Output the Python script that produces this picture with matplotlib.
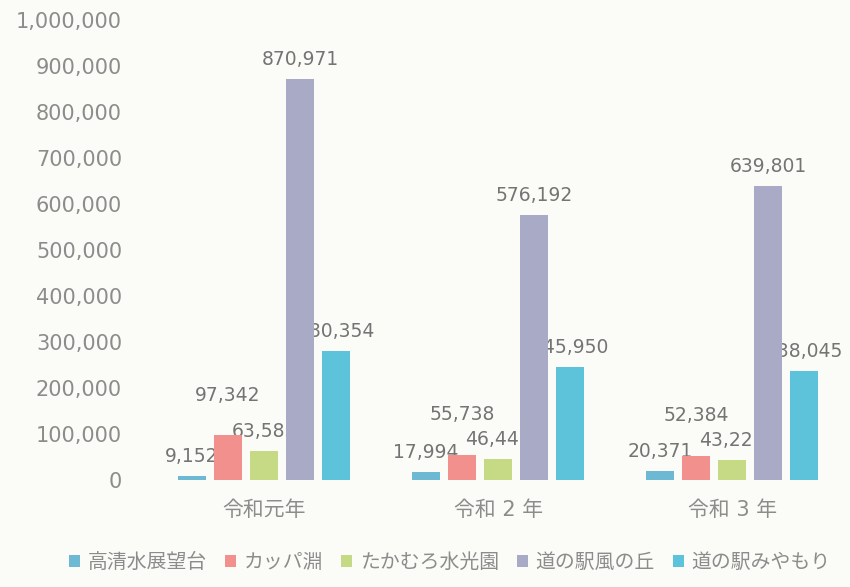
import matplotlib
matplotlib.use("Agg")
import matplotlib.pyplot as plt
import numpy as np

plt.rcParams['font.family'] = ['DejaVu Sans', 'Noto Sans CJK JP']

categories = ['令和元年', '令和 2 年', '令和 3 年']
series_names = ['高清水展望台', 'カッパ淵', 'たかむろ水光園', '道の駅風の丘', '道の駅みやもり']
takashimizu = [9152, 17994, 20371]
kappabuchi = [97342, 55738, 52384]
takamuro = [63583, 46445, 43223]
kazenooka = [870971, 576192, 639801]
miyamori = [280354, 245950, 238045]
yticks = [0, 100000, 200000, 300000, 400000, 500000, 600000, 700000, 800000, 900000, 1000000]

series = [takashimizu, kappabuchi, takamuro, kazenooka, miyamori]
colors = ['#6DB9D3', '#F2908D', '#C6D985', '#A9AAC6', '#5CC3DB']
label_offsets = [14, 29, 14, 14, 14]  # points above bar top

fig = plt.figure(figsize=(8.5, 5.87), dpi=100)
fig.patch.set_facecolor('#FBFBF7')
ax = fig.add_axes([0.173, 0.182, 0.826, 0.784])
ax.set_facecolor('#FBFBF7')

x = np.arange(len(categories))
width = 0.12
step = 0.154
txtcol = '#747474'
tickcol = '#8C8C8C'
for i, (vals, col) in enumerate(zip(series, colors)):
    xs = x + (i - 2) * step
    ax.bar(xs, vals, width, color=col, label=series_names[i], zorder=3)
    for xv, v in zip(xs, vals):
        ax.annotate(f'{v:,}', (xv, v), xytext=(0, label_offsets[i]),
                    textcoords='offset points', ha='center', va='center',
                    fontsize=13.5, color=txtcol, zorder=2)

ax.set_xlim(-0.5, 2.5)
ax.set_ylim(0, 1000000)
ax.set_yticks(yticks)
ax.set_yticklabels([f'{t:,}' for t in yticks], fontsize=15, color=tickcol)
ax.set_xticks(x)
ax.set_xticklabels(categories, fontsize=15, color=tickcol)
ax.tick_params(axis='both', length=0)
ax.tick_params(axis='y', pad=18)
ax.tick_params(axis='x', pad=14)
for s in ax.spines.values():
    s.set_visible(False)

leg = fig.legend(loc='lower center', bbox_to_anchor=(0.529, -0.005), ncol=5, frameon=False,
                 fontsize=14.3, handlelength=0.55, handleheight=0.55, handletextpad=0.4,
                 columnspacing=0.9, labelcolor=tickcol)

fig.savefig('out.png', dpi=100, facecolor=fig.get_facecolor())
